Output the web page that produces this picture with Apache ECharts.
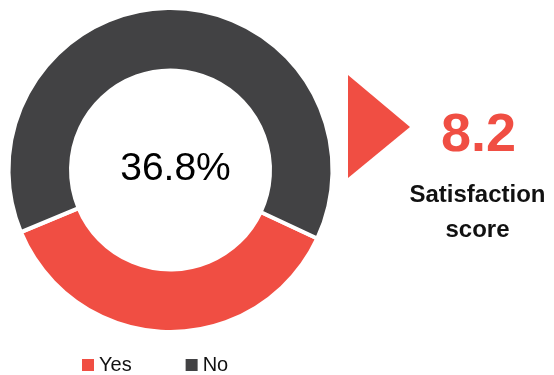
<!DOCTYPE html>
<html>
<head>
<meta charset="utf-8">
<script src="https://cdn.jsdelivr.net/npm/echarts@6/dist/echarts.min.js"></script>
<style>
  html, body { margin: 0; padding: 0; background: #fff; }
  #main { width: 554px; height: 375px; }
</style>
</head>
<body>
<div id="main"></div>
<script>
// data
var categories = ['Yes', 'No']
var shares = [36.8, 63.2]
var colors = ['#f04e43', '#424244']
var scoreValue = [8.2]
var scoreLabel = ['Satisfaction', 'score']

var font = '"Liberation Sans", Arial, Helvetica, sans-serif'
var total = shares[0] + shares[1]
var centerText = (shares[0] / total * 100).toFixed(1) + '%'

var chart = echarts.init(document.getElementById('main'))
chart.setOption({
  animation: false,
  color: colors,
  title: {
    text: centerText,
    left: 175.5,
    top: 169,
    padding: 0,
    textAlign: 'center',
    textVerticalAlign: 'middle',
    textStyle: { fontFamily: font, fontSize: 39, fontWeight: 'normal', color: '#000' }
  },
  legend: {
    data: categories,
    left: 82,
    top: 355,
    padding: 0,
    itemWidth: 12,
    itemHeight: 12,
    itemGap: 54,
    icon: 'rect',
    selectedMode: false,
    itemStyle: { borderWidth: 0 },
    textStyle: { fontFamily: font, fontSize: 20, color: '#111' }
  },
  series: [
    {
      type: 'pie',
      center: [170.5, 170],
      radius: [99.5, 162],
      startAngle: -25,
      clockwise: true,
      silent: true,
      label: { show: false },
      labelLine: { show: false },
      itemStyle: { borderColor: '#fff', borderWidth: 4 },
      data: categories.map(function (c, i) {
        return { name: c, value: shares[i] }
      })
    }
  ],
  graphic: [
    {
      type: 'polygon',
      shape: { points: [[348, 75], [348, 178], [410, 127]] },
      style: { fill: colors[0] }
    },
    {
      type: 'text',
      x: 478.5,
      y: 136,
      style: {
        text: String(scoreValue[0]),
        font: 'bold 54px ' + font,
        fill: colors[0],
        align: 'center',
        verticalAlign: 'middle'
      }
    },
    {
      type: 'text',
      x: 477.5,
      y: 213,
      style: {
        text: scoreLabel.join('\n'),
        font: 'bold 24px ' + font,
        lineHeight: 35,
        fill: '#111',
        align: 'center',
        verticalAlign: 'middle'
      }
    }
  ]
})
</script>
</body>
</html>
